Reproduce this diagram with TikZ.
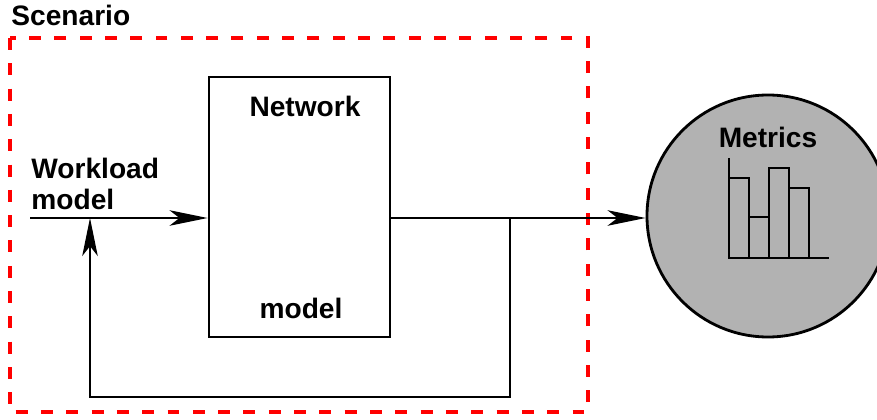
\documentclass[tikz,border=0pt]{standalone}
\usepackage{fontspec}
\setmainfont{Liberation Sans}
\usetikzlibrary{arrows.meta}

\begin{document}
\begin{tikzpicture}
[x=0.025cm, y=-0.025cm, line width=2pt,
font=\fontsize{20}{22}\selectfont\bfseries,
label/.style={inner sep=0pt},
flow/.style={-{Stealth[length=27pt, width=11pt, inset=7pt]}},
bar/.style={draw, line width=1.2pt}]

\useasboundingbox (0, 0) rectangle (877, 420);

% scenario frame
\node[label, anchor=base west] (scen) at (10, 26) {Scenario};
\draw[red, line width=2.3pt, dash pattern=on 8.5pt off 9.5pt] (10, 38) rectangle (588, 412);

% network model block
\node[draw, minimum width=181*0.025cm, minimum height=260*0.025cm, inner sep=0pt] (net) at (299.5, 207) {};
\node[label, anchor=base] (nettop) at (305, 117) {Network};
\node[label, anchor=base] (netbot) at (301, 318) {model};

% workload input
\node[label, anchor=north west, align=left] (wl) at (30, 157) {Workload\\model};
\coordinate (in) at (30, 218);
\coordinate (fb) at (90, 218);
\draw[flow] (in) -- (net.west |- in);

% metrics
\node[circle, draw, fill=black!30, minimum size=242*0.025cm, inner sep=0pt] (met) at (768, 216) {};
\node[label, anchor=base] (mettxt) at (768, 148) {Metrics};
\draw[flow] (net.east |- in) -- (met.west |- in);

% feedback loop
\coordinate (tap) at (510, 218);
\draw[flow] (tap) -- (510, 397) -- (90, 397) -- (fb);

% histogram
\foreach \x/\h in {729/178, 749/217, 769/168, 789/188} {
    \draw[bar] (\x, 258) rectangle (\x+20, \h);
}
\draw[bar] (729, 158) -- (729, 258) -- (829, 258);

\end{tikzpicture}
\end{document}
